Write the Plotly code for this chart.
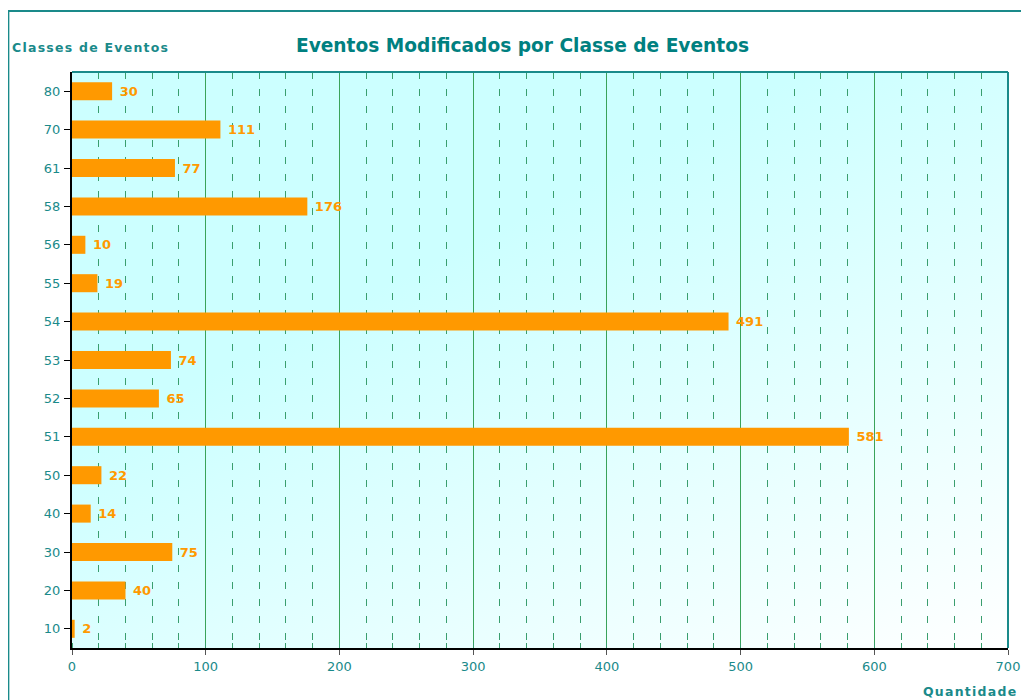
import base64
import plotly.graph_objects as go

# Dados
classes = ["10", "20", "30", "40", "50", "51", "52", "53", "54", "55", "56", "58", "61", "70", "80"]
quantidade = [2, 40, 75, 14, 22, 581, 65, 74, 491, 19, 10, 176, 77, 111, 30]

TEAL = "#1a8a8a"
ORANGE = "#ff9900"


def espaco(s):
    # imita o espaçamento entre letras do original
    return "\u200a".join(s)


# fundo em degradê (ciano -> branco)
svg = """<svg xmlns='http://www.w3.org/2000/svg' width='100' height='100' preserveAspectRatio='none'>
<defs><linearGradient id='g' x1='0.42' y1='0.3' x2='1' y2='1'>
<stop offset='0' stop-color='#ccffff'/><stop offset='1' stop-color='#ffffff'/></linearGradient></defs>
<rect width='100' height='100' fill='url(#g)'/></svg>"""
bg = "data:image/svg+xml;base64," + base64.b64encode(svg.encode()).decode()

fig = go.Figure()
fig.add_trace(go.Bar(
    x=quantidade, y=classes, orientation="h",
    marker=dict(color=ORANGE, line=dict(width=0)),
    width=0.47,
    text=[" " + str(v) for v in quantidade], textposition="outside",
    textfont=dict(color=ORANGE, size=13, family="DejaVu Sans", weight="bold"),
    cliponaxis=False, showlegend=False,
))

# a página tem 8px de margem no body -> compensar
fig.update_layout(
    width=1029, height=700,
    margin=dict(l=64, r=29, t=64, b=60),
    paper_bgcolor="white", plot_bgcolor="rgba(0,0,0,0)",
    font=dict(family="DejaVu Sans", color=TEAL, size=13),
    title=dict(text="<b>Eventos Modificados por Classe de Eventos</b>",
               x=0.5, xanchor="center", y=1 - 37 / 700, yanchor="middle",
               font=dict(size=18.6, color="#008080", family="DejaVu Sans")),
    images=[dict(source=bg, xref="paper", yref="paper", x=0, y=1, sizex=1, sizey=1,
                 sizing="stretch", layer="below")],
    shapes=[
        dict(type="rect", xref="paper", yref="paper", x0=-0.068, x1=1.06, y0=-0.2, y1=1.106,
             line=dict(color=TEAL, width=2), layer="below"),
        dict(type="line", xref="paper", yref="paper", x0=0, x1=1, y0=1, y1=1,
             line=dict(color=TEAL, width=2)),
        dict(type="line", xref="paper", yref="paper", x0=1, x1=1, y0=0, y1=1,
             line=dict(color=TEAL, width=2)),
    ],
    annotations=[
        dict(text="<b>" + espaco("Classes de Eventos") + "</b>", xref="paper", yref="paper",
             x=-0.066, y=1.043, xanchor="left", yanchor="middle", showarrow=False,
             font=dict(size=12.5, color=TEAL)),
        dict(text="<b>" + espaco("Quantidade") + "</b>", xref="paper", yref="paper",
             x=1.011, y=-0.076, xanchor="right", yanchor="middle", showarrow=False,
             font=dict(size=12.5, color=TEAL)),
    ],
    bargap=0.5,
)

fig.update_xaxes(
    range=[0, 700], dtick=100, tick0=0,
    showgrid=True, gridcolor="#3aa35a", gridwidth=1,
    ticks="outside", ticklen=5, tickcolor="#555555",
    showline=True, linecolor="black", linewidth=2,
    tickfont=dict(color=TEAL, size=13),
    zeroline=False,
    minor=dict(dtick=20, showgrid=True, gridcolor="#3a9e6e", griddash="7px,10px",
               gridwidth=1, ticks="inside", ticklen=5, tickcolor="#3a9e6e"),
)
fig.update_yaxes(
    categoryorder="array", categoryarray=classes,
    showgrid=False, ticks="outside", ticklen=6, tickcolor="black",
    showline=True, linecolor="black", linewidth=2,
    tickfont=dict(color=TEAL, size=13),
    ticklabelstandoff=1,
)

fig.write_html("out.html")
